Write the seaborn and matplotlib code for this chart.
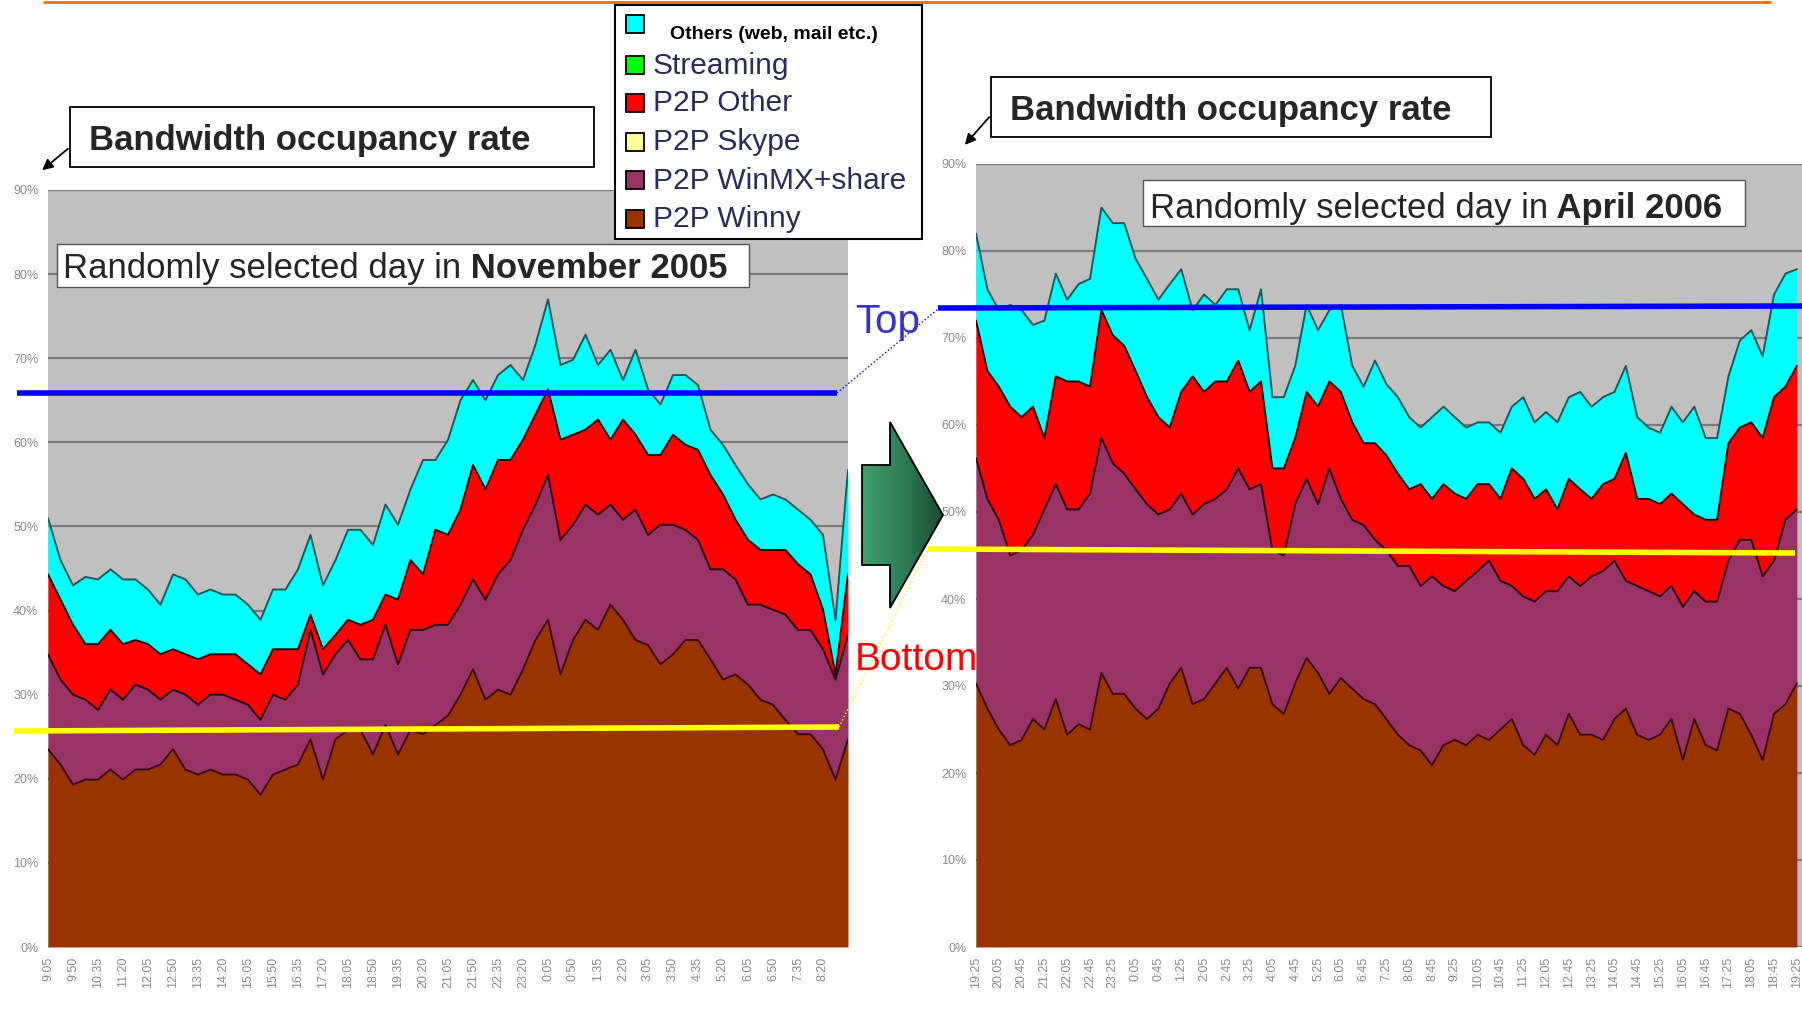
"""
Bandwidth occupancy rate: one day in November 2005 against one day in April 2006.
"""

import numpy as np
import matplotlib
matplotlib.use("Agg")
import matplotlib.pyplot as plt
import seaborn as sns
from matplotlib.patches import Rectangle, Polygon
from matplotlib.colors import LinearSegmentedColormap

# ---------------------------------------------------------------------------
# Data (cumulative top of each stacked layer, %)
# ---------------------------------------------------------------------------

# November 2005, one sample every 22.5 min starting 9:05
nov_winny = [23.5, 21.7, 19.3, 19.9, 19.9, 21.1, 19.9, 21.1, 21.1, 21.7, 23.5, 21.1, 20.5,
             21.1, 20.5, 20.5, 19.9, 18.1, 20.5, 21.1, 21.7, 24.7, 19.9, 24.7, 25.8, 25.8,
             22.9, 26.4, 22.9, 25.8, 25.3, 26.4, 27.5, 30.0, 33.0, 29.4, 30.6, 30.0, 33.0,
             36.5, 38.9, 32.4, 36.5, 38.9, 37.7, 40.7, 38.9, 36.5, 35.9, 33.6, 34.8, 36.5,
             36.5, 34.2, 31.8, 32.4, 31.2, 29.4, 28.8, 27.0, 25.3, 25.3, 23.5, 19.9, 24.7]
nov_winmx = [34.8, 31.8, 30.0, 29.4, 28.2, 30.6, 29.4, 31.2, 30.6, 29.4, 30.6, 30.0, 28.8,
             30.0, 30.0, 29.4, 28.8, 27.0, 30.0, 29.4, 31.2, 37.7, 32.4, 34.8, 36.5, 34.2,
             34.2, 38.3, 33.6, 37.7, 37.7, 38.3, 38.3, 40.7, 43.7, 41.3, 44.3, 46.0, 49.6,
             52.6, 56.1, 48.4, 50.2, 52.6, 51.4, 52.6, 50.8, 52.0, 49.0, 50.2, 50.2, 49.6,
             48.4, 44.9, 44.9, 43.7, 40.7, 40.7, 40.1, 39.5, 37.7, 37.7, 35.4, 31.8, 37.1]
nov_p2p_other = [44.3, 41.3, 38.3, 36.0, 36.0, 37.7, 36.0, 36.5, 36.0, 34.8, 35.4, 34.8, 34.2,
                 34.8, 34.8, 34.8, 33.6, 32.4, 35.4, 35.4, 35.4, 39.5, 35.4, 37.1, 38.9, 38.3,
                 38.9, 41.9, 41.3, 46.0, 44.3, 49.6, 49.0, 52.0, 57.3, 54.4, 57.9, 57.9, 60.3,
                 63.3, 66.3, 60.3, 60.9, 61.5, 62.7, 60.3, 62.7, 60.9, 58.5, 58.5, 60.9, 59.7,
                 59.1, 56.1, 53.8, 50.8, 48.4, 47.2, 47.2, 47.2, 45.5, 44.3, 40.1, 32.4, 44.3]
nov_others = [51.0, 46.0, 43.0, 44.0, 43.7, 44.9, 43.7, 43.7, 42.5, 40.7, 44.3, 43.7, 41.9,
              42.5, 41.9, 41.9, 40.7, 38.9, 42.5, 42.5, 44.9, 49.0, 43.0, 46.0, 49.6, 49.6,
              47.8, 52.6, 50.2, 54.4, 57.9, 57.9, 60.3, 65.0, 67.4, 65.0, 68.0, 69.2, 67.4,
              71.6, 77.0, 69.2, 69.8, 72.8, 69.2, 71.0, 67.4, 71.0, 66.3, 64.5, 68.0, 68.0,
              66.8, 61.5, 59.7, 57.3, 55.0, 53.2, 53.8, 53.2, 52.0, 50.8, 49.0, 38.9, 56.7]

# April 2006, one sample every 20 min starting 19:25
apr_winny = [30.3, 27.4, 25.0, 23.2, 23.8, 26.2, 25.0, 28.5, 24.4, 25.6, 25.0, 31.5, 29.1,
             29.1, 27.4, 26.2, 27.4, 30.3, 32.1, 27.9, 28.5, 30.3, 32.1, 29.7, 32.1, 32.1,
             27.9, 26.8, 30.3, 33.2, 31.5, 29.1, 30.9, 29.7, 28.5, 27.9, 26.2, 24.4, 23.2,
             22.6, 20.9, 23.2, 23.8, 23.2, 24.4, 23.8, 25.0, 26.2, 23.2, 22.1, 24.4, 23.2,
             26.8, 24.4, 24.4, 23.8, 26.2, 27.4, 24.4, 23.8, 24.4, 26.2, 21.5, 26.2, 23.2,
             22.6, 27.4, 26.8, 24.4, 21.5, 26.8, 27.9, 30.3]
apr_winmx = [56.2, 51.5, 49.1, 45.0, 45.6, 47.4, 50.3, 53.2, 50.3, 50.3, 52.1, 58.5, 55.6,
             54.4, 52.6, 50.9, 49.7, 50.3, 52.1, 49.7, 50.9, 51.5, 52.6, 55.0, 52.6, 53.2,
             45.6, 45.0, 50.9, 53.8, 50.9, 55.0, 51.5, 49.1, 48.5, 46.8, 45.6, 43.8, 43.8,
             41.5, 42.6, 41.5, 40.9, 42.1, 43.2, 44.4, 42.1, 41.5, 40.3, 39.7, 40.9, 40.9,
             42.6, 41.5, 42.6, 43.2, 44.4, 42.1, 41.5, 40.9, 40.3, 41.5, 39.1, 40.9, 39.7,
             39.7, 44.4, 46.8, 46.8, 42.6, 44.4, 49.1, 50.3]
apr_p2p_other = [72.0, 66.2, 64.4, 62.1, 60.9, 62.1, 58.5, 65.6, 65.0, 65.0, 64.4, 73.2, 70.3,
                 69.1, 66.2, 63.2, 60.9, 59.7, 63.8, 65.6, 63.8, 65.0, 65.0, 67.4, 63.8, 65.0,
                 55.0, 55.0, 58.5, 63.8, 62.1, 65.0, 63.8, 60.3, 57.9, 57.9, 56.5, 54.4, 52.6,
                 53.2, 51.5, 53.2, 52.1, 51.5, 53.2, 53.2, 51.5, 55.0, 53.8, 51.5, 52.6, 50.3,
                 53.8, 52.6, 51.5, 53.2, 53.8, 56.8, 51.5, 51.5, 50.9, 52.1, 50.9, 49.7, 49.1,
                 49.1, 57.9, 59.7, 60.3, 58.5, 63.2, 64.4, 66.8]
apr_others = [82.0, 75.6, 73.2, 73.8, 73.2, 71.5, 72.0, 77.4, 74.4, 76.2, 76.8, 85.0, 83.2,
              83.2, 79.1, 76.8, 74.4, 76.2, 77.9, 73.2, 75.0, 73.8, 75.6, 75.6, 70.9, 75.6,
              63.2, 63.2, 66.8, 73.8, 70.9, 73.2, 73.8, 66.8, 64.4, 67.4, 64.7, 63.2, 60.9,
              59.7, 60.9, 62.1, 60.9, 59.7, 60.3, 60.3, 59.1, 62.1, 63.2, 60.3, 61.5, 60.3,
              63.2, 63.8, 62.1, 63.2, 63.8, 66.8, 60.9, 59.7, 59.1, 62.1, 60.3, 62.1, 58.5,
              58.5, 65.6, 69.7, 70.9, 67.9, 75.0, 77.4, 77.9]

nov_tick_labels = ["9:05", "9:50", "10:35", "11:20", "12:05", "12:50", "13:35", "14:20",
                   "15:05", "15:50", "16:35", "17:20", "18:05", "18:50", "19:35", "20:20",
                   "21:05", "21:50", "22:35", "23:20", "0:05", "0:50", "1:35", "2:20",
                   "3:05", "3:50", "4:35", "5:20", "6:05", "6:50", "7:35", "8:20"]
apr_tick_labels = ["19:25", "20:05", "20:45", "21:25", "22:05", "22:45", "23:25", "0:05",
                   "0:45", "1:25", "2:05", "2:45", "3:25", "4:05", "4:45", "5:25", "6:05",
                   "6:45", "7:25", "8:05", "8:45", "9:25", "10:05", "10:45", "11:25",
                   "12:05", "12:45", "13:25", "14:05", "14:45", "15:25", "16:05", "16:45",
                   "17:25", "18:05", "18:45", "19:25"]
pct_labels = ["0%", "10%", "20%", "30%", "40%", "50%", "60%", "70%", "80%", "90%"]

legend_labels = ["Others (web, mail etc.)", "Streaming", "P2P Other", "P2P Skype",
                 "P2P WinMX+share", "P2P Winny"]
legend_colors = ["#00ffff", "#00ff00", "#ff0000", "#ffff99", "#993366", "#993300"]

COL_OTHERS, COL_OTHER, COL_WINMX, COL_WINNY = "#00ffff", "#ff0000", "#993366", "#993300"

# ---------------------------------------------------------------------------
sns.set_theme(style="white")
plt.rcParams["font.family"] = ["Liberation Sans", "DejaVu Sans"]

W, H = 1802, 1033
fig = plt.figure(figsize=(W / 100, H / 100), dpi=100)
fig.patch.set_facecolor("white")


def px_axes(x0, y0, x1, y1):
    """Axes placed with pixel coordinates (origin top-left)."""
    return fig.add_axes([x0 / W, 1 - y1 / H, (x1 - x0) / W, (y1 - y0) / H])


def draw_day(ax, step, winny, winmx, p2p_other, others, tick_step, tick_labels, xmax):
    x = np.arange(len(winny)) * step
    base = np.zeros(len(winny))
    ax.set_facecolor("#c0c0c0")
    for lo, hi, col in [(base, winny, COL_WINNY), (winny, winmx, COL_WINMX),
                        (winmx, p2p_other, COL_OTHER), (p2p_other, others, COL_OTHERS)]:
        ax.fill_between(x, lo, hi, color=col, lw=0, zorder=2)
    for y, ec in [(winny, "#3a0a14"), (winmx, "#2a0818"), (p2p_other, "#2a0000"),
                  (others, "#1c5a5a")]:
        sns.lineplot(x=x, y=y, ax=ax, color=ec, lw=1.4, zorder=3, estimator=None,
                     legend=False)
    ax.set_xlim(0, xmax)
    ax.set_ylim(0, 90)
    ax.set_yticks(np.arange(len(pct_labels)) * 10)
    ax.set_yticklabels(pct_labels)
    ax.set_xticks(np.arange(len(tick_labels)) * tick_step)
    ax.set_xticklabels(tick_labels, rotation=90)
    ax.set_axisbelow(True)
    ax.yaxis.grid(True, color="#7a7a7a", lw=1.6)
    ax.xaxis.grid(False)
    ax.tick_params(axis="both", length=0, labelsize=9, labelcolor="#8a8a8a")
    ax.tick_params(axis="y", pad=7)
    ax.tick_params(axis="x", pad=7)
    ax.set_xlabel("")
    ax.set_ylabel("")
    for s in ax.spines.values():
        s.set_visible(False)


ax_nov = px_axes(48, 190, 848, 947)
draw_day(ax_nov, 22.5, nov_winny, nov_winmx, nov_p2p_other, nov_others, 45,
         nov_tick_labels, 1440)

ax_apr = px_axes(976, 164, 1802, 947)
draw_day(ax_apr, 20, apr_winny, apr_winmx, apr_p2p_other, apr_others, 40,
         apr_tick_labels, 1449)

# overlay in pixel coordinates for the annotations
ov = fig.add_axes([0, 0, 1, 1])
ov.set_xlim(0, W)
ov.set_ylim(H, 0)
ov.set_facecolor("none")
ov.axis("off")

# orange rule at the top
ov.plot([44, 1770], [1.5, 1.5], color="#ff6a00", lw=2)

# top / bottom reference lines
ov.plot([17, 837], [393, 393], color="#0000ff", lw=4, solid_capstyle="butt", zorder=4)
ov.plot([837, 938], [393, 309], color="#0000ff", lw=1, ls=":", zorder=4)
ov.plot([938, 1802], [308, 306], color="#0000ff", lw=4, solid_capstyle="butt", zorder=4)
ov.plot([14, 839], [731, 727], color="#ffff00", lw=4, solid_capstyle="butt", zorder=4)
ov.plot([839, 928], [727, 549], color="#ffff00", lw=1, ls=":", zorder=4)
ov.plot([928, 1795], [549, 553], color="#ffff00", lw=4, solid_capstyle="butt", zorder=4)

ov.text(855, 333, "Top", fontsize=29, color="#3434c8", va="baseline", zorder=7)
ov.text(855, 670, "Bottom", fontsize=28, color="#ff0000", va="baseline", zorder=7)

# green arrow with a gradient
arrow_pts = [(862, 465), (890, 465), (890, 422), (943, 515), (890, 608), (890, 565), (862, 565)]
arrow = Polygon(arrow_pts, closed=True, fc="none", ec="black", lw=1.3, zorder=6)
ov.add_patch(arrow)
green = LinearSegmentedColormap.from_list("green", ["#40a06e", "#2f7d55", "#1a4a30"])
img = ov.imshow(np.linspace(0, 1, 256).reshape(1, -1), extent=(862, 943, 608, 422),
                cmap=green, aspect="auto", zorder=5)
img.set_clip_path(arrow)
ov.set_xlim(0, W)
ov.set_ylim(H, 0)

# "Bandwidth occupancy rate" callouts
for (bx0, by0, bx1, by1), tx, base, tip in [((70, 107, 594, 167), 89, 150, ((70, 147), (40, 172))),
                                          ((991, 77, 1491, 137), 1010, 120, ((991, 115), (963, 147)))]:
    ov.add_patch(Rectangle((bx0, by0), bx1 - bx0, by1 - by0, fc="white", ec="black",
                           lw=1.3, zorder=6))
    ov.text(tx, base, "Bandwidth occupancy rate", fontsize=25, fontweight="bold",
            va="baseline", zorder=7)
    ov.annotate("", xy=tip[1], xytext=tip[0], zorder=7,
                arrowprops=dict(arrowstyle="-|>", color="black", lw=1.3, mutation_scale=16))

# "Randomly selected day in ..." boxes, bold month after the plain part
fig.canvas.draw()
renderer = fig.canvas.get_renderer()
for (bx0, by0, bx1, by1), tx, base, month in [((57, 244, 749, 287), 63, 278, "November 2005"),
                                            ((1143, 180, 1745, 226), 1150, 218, "April 2006")]:
    ov.add_patch(Rectangle((bx0, by0), bx1 - bx0, by1 - by0, fc="white", ec="#555555",
                           lw=1, zorder=6))
    t1 = ov.text(tx, base, "Randomly selected day in", fontsize=25, va="baseline", zorder=7)
    x_end = t1.get_window_extent(renderer).x1
    ov.text(x_end, base, " " + month, fontsize=25, fontweight="bold", va="baseline", zorder=7)

# legend drawn by hand (first entry uses a different style)
ov.add_patch(Rectangle((615, 5), 307, 234, fc="white", ec="black", lw=1.5, zorder=6))
square_tops = [15, 56, 94, 133, 171, 210]
baselines = [39, 74, 111, 150, 189, 227]
for i, (lab, col) in enumerate(zip(legend_labels, legend_colors)):
    ov.add_patch(Rectangle((626, square_tops[i]), 18, 18, fc=col, ec="black", lw=1.3, zorder=7))
    if i == 0:
        ov.text(670, baselines[i], lab, fontsize=14, fontweight="bold", color="black",
                va="baseline", zorder=7)
    else:
        ov.text(653, baselines[i], lab, fontsize=21.5, color="#2c2c5c", va="baseline", zorder=7)

fig.savefig("out.png", dpi=100, facecolor="white")
